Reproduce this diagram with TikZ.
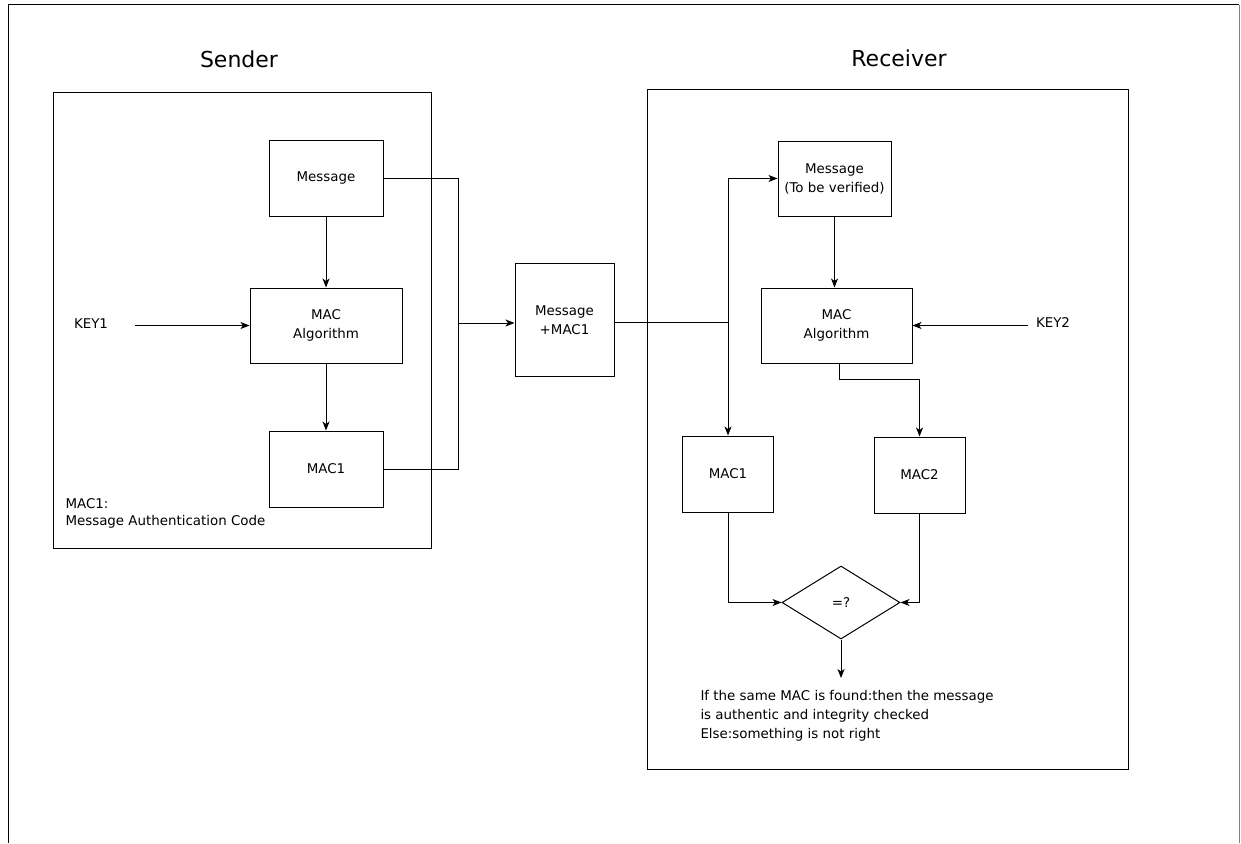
\documentclass[tikz,border=0pt]{standalone}
\usepackage{fontspec}
\setmainfont{DejaVu Sans}
\usetikzlibrary{arrows.meta,shapes.geometric}
\begin{document}
\begin{tikzpicture}[x=1pt,y=-1pt,
  line width=1pt,
  >={Stealth[length=9pt,width=7pt,inset=2.5pt]},
  blk/.style={draw, inner sep=0pt, align=center, font=\fontsize{13.4}{19}\selectfont},
  frm/.style={draw, inner sep=0pt},
  ttl/.style={font=\fontsize{22}{26}\selectfont, inner sep=0pt},
  lbl/.style={font=\fontsize{13.4}{17}\selectfont, inner sep=0pt}]
\useasboundingbox (0,0) rectangle (1241,843);
\fill[white] (0,0) rectangle (1241,843);
% outer frame
\draw (8,843) -- (8,5) -- (1239,5);
\draw[gray] (1239,5) -- (1239,843);

% titles
\node[ttl] (tsend) at (239,59) {Sender};
\node[ttl] (trecv) at (899,58) {Receiver};

% frames
\node[frm, minimum width=378pt, minimum height=456pt] (sframe) at (242,320) {};
\node[frm, minimum width=481pt, minimum height=680pt] (rframe) at (887.5,429) {};

% sender
\node[blk, minimum width=114pt, minimum height=76pt] (smsg) at (326,178) {Message};
\node[blk, minimum width=152pt, minimum height=75pt] (salg) at (326,325.5) {MAC\\Algorithm};
\node[blk, minimum width=114pt, minimum height=76pt] (smac) at (326,469) {MAC1};
\node[lbl] (key1) at (91,324) {KEY1};
\node[lbl, anchor=north west, align=left] (note) at (65,498) {MAC1:\\Message Authentication Code};
\coordinate (k1) at (135,325.5);
\coordinate (jl) at (458,323);

% middle
\node[blk, minimum width=99pt, minimum height=113pt] (mplus) at (564.5,320) {Message\\+MAC1};
\coordinate (jr) at (728,322);

% receiver
\node[blk, minimum width=113pt, minimum height=75pt] (rmsg) at (834.5,178.5) {Message\\(To be verified)};
\node[blk, minimum width=151pt, minimum height=75pt] (ralg) at (836.5,325.5) {MAC\\Algorithm};
\node[lbl] (key2) at (1053,323) {KEY2};
\coordinate (k2) at (1028,325.5);
\node[blk, minimum width=91pt, minimum height=76pt] (rmac1) at (728,474) {MAC1};
\node[blk, minimum width=91pt, minimum height=76pt] (rmac2) at (919.5,475) {MAC2};
\node[draw, diamond, minimum width=118pt, minimum height=73pt, inner sep=0pt,
      font=\fontsize{13.4}{16}\selectfont] (dia) at (841,602.5) {=?};
\coordinate (out) at (841,678);
\node[lbl, anchor=north west, align=left, font=\fontsize{13.4}{19}\selectfont] (res) at (700,690)
  {If the same MAC is found:then the message\\is authentic and integrity checked\\Else:something is not right};

% sender connectors
\draw[->] (smsg.south) -- (salg.north);
\draw[->] (salg.south) -- (smac.north);
\draw[->] (k1) -- (k1 -| salg.west);
\draw (smsg.east) -| (jl);
\draw (smac.east) -| (jl);
\draw[->] (jl) -- (jl -| mplus.west);

% middle to receiver
\draw (mplus.east |- jr) -- (jr);
\draw[->] (jr) |- (rmsg.west);
\draw[->] (jr) -- (jr |- rmac1.north);

% receiver connectors
\draw[->] (rmsg.south) -- (rmsg.south |- ralg.north);
\draw[->] (k2) -- (k2 -| ralg.east);
\draw[->] ([xshift=2.5pt]ralg.south) -- ++(0,16) -| (rmac2.north);
\draw[->] (rmac1.south) |- (dia.west);
\draw[->] (rmac2.south) |- (dia.east);
\draw[->] (dia.south) -- (out);
\end{tikzpicture}
\end{document}
